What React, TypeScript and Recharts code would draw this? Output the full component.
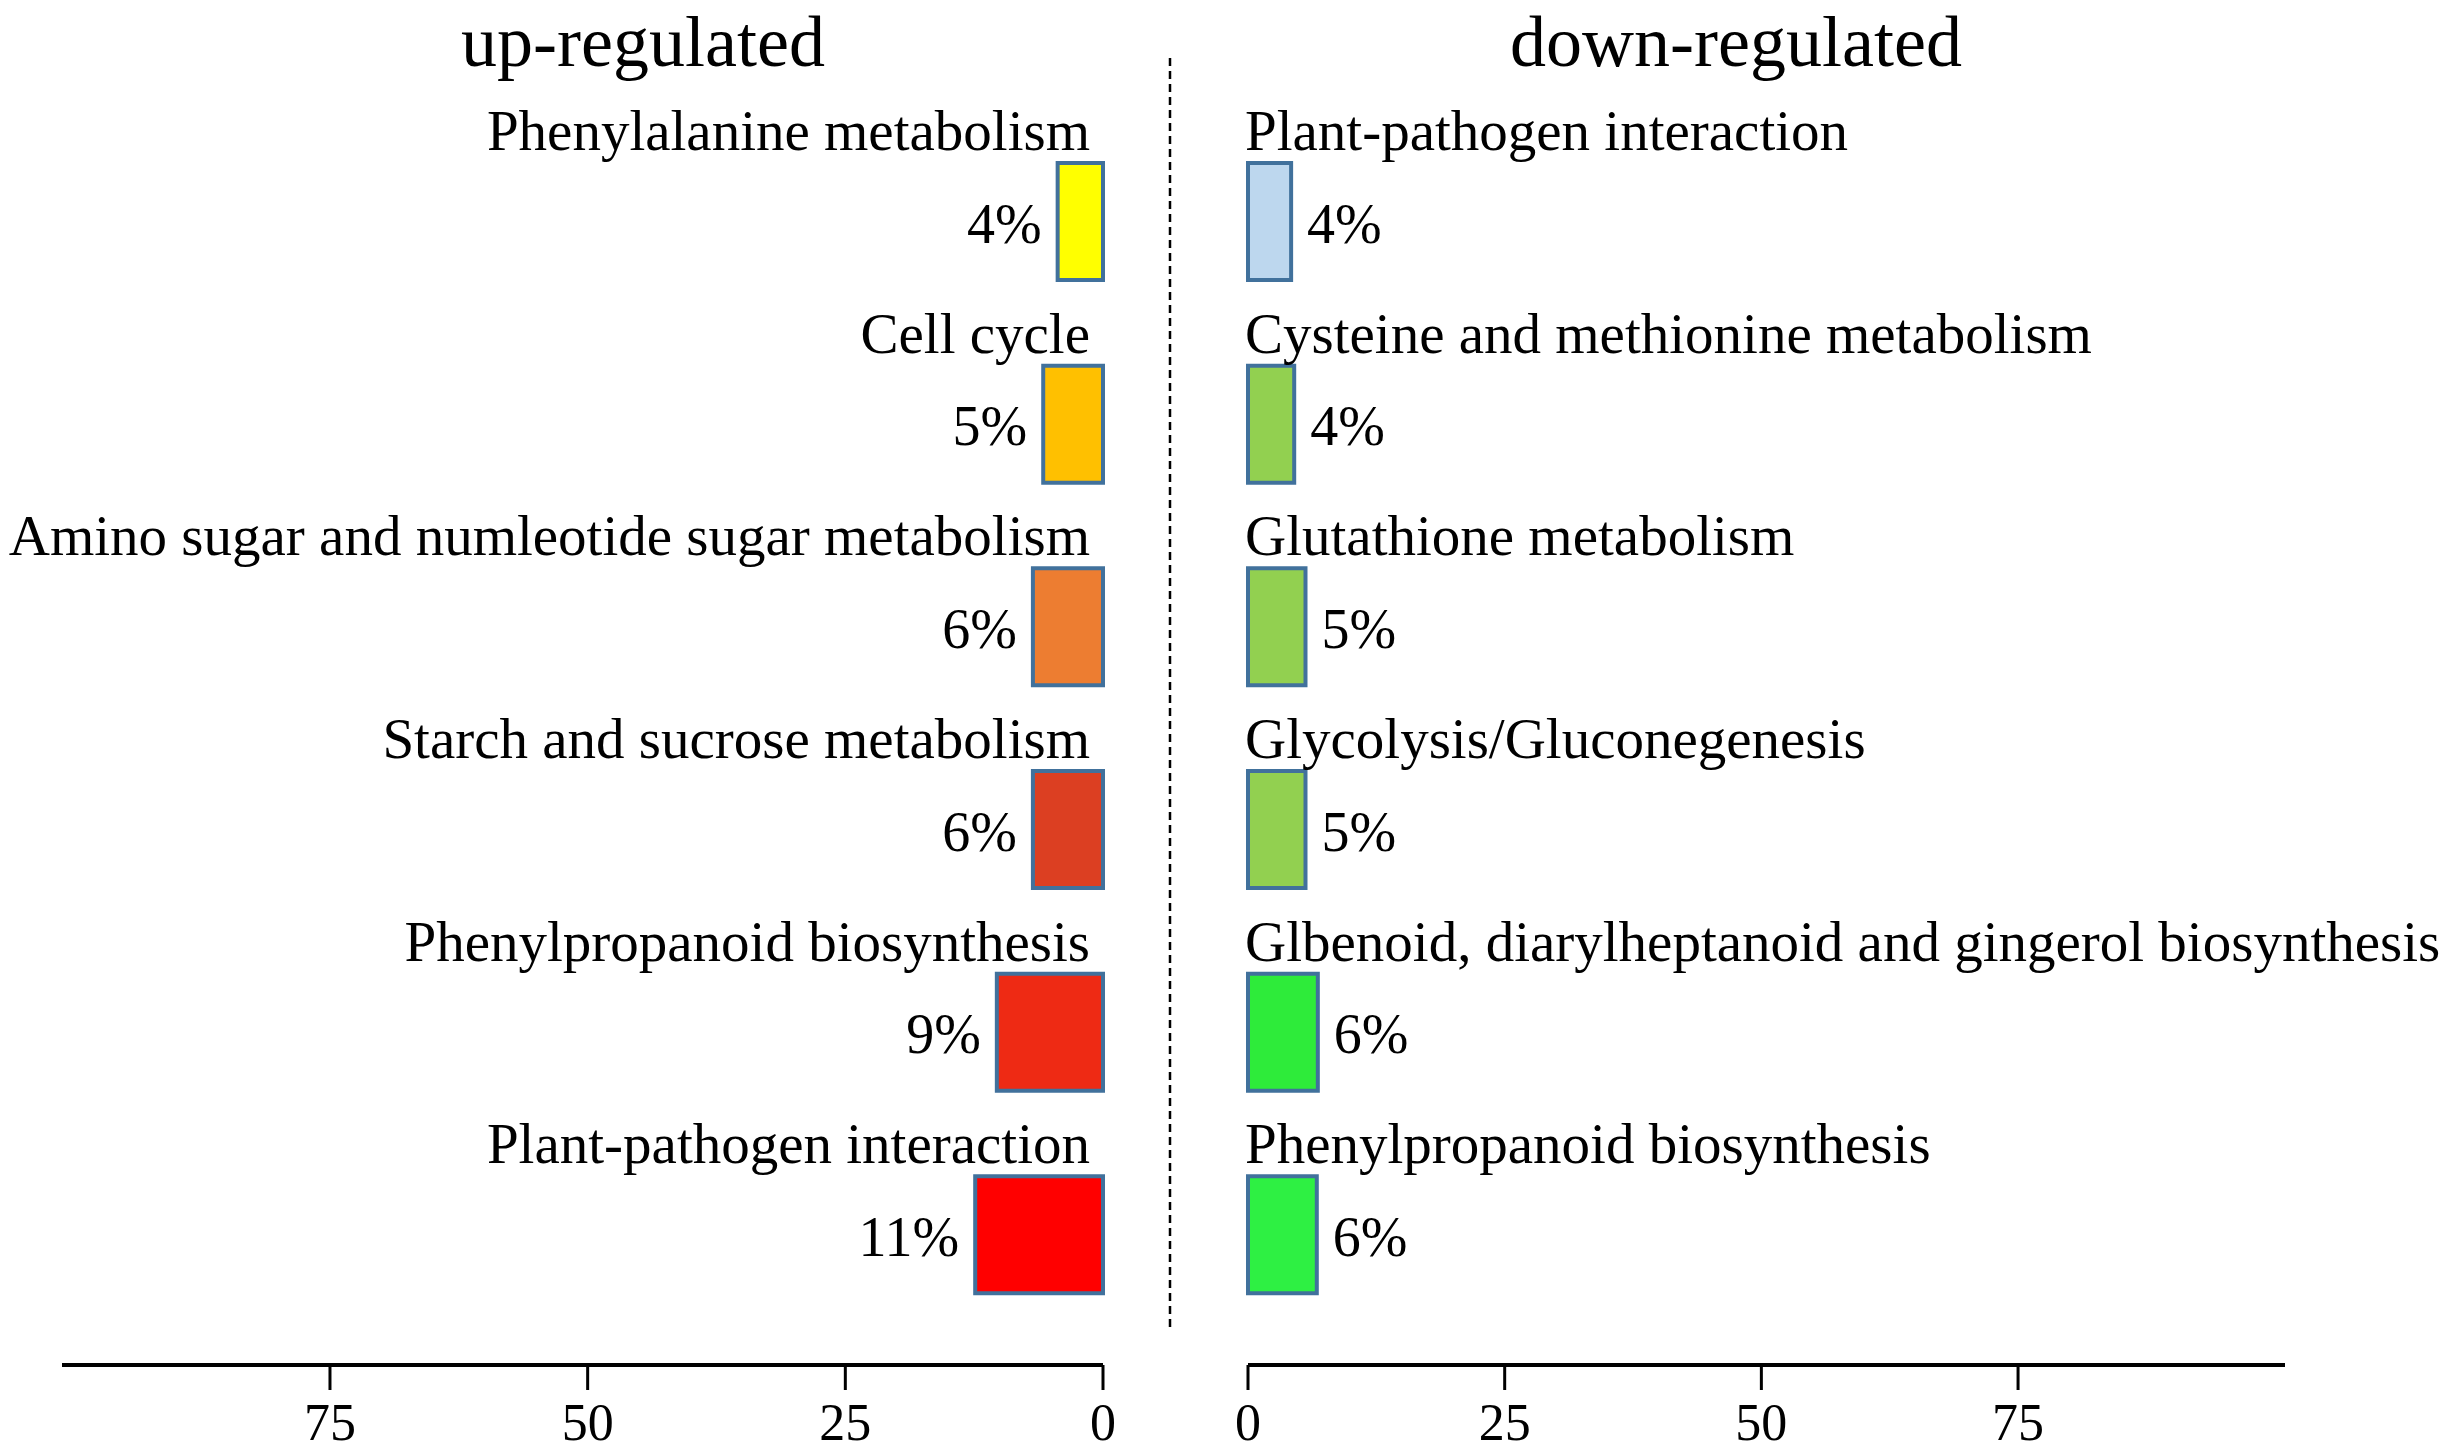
import React from 'react';
import { BarChart, Bar, XAxis, YAxis, Cell, LabelList } from 'recharts';

const upPathways = [
  'Phenylalanine metabolism',
  'Cell cycle',
  'Amino sugar and numleotide sugar metabolism',
  'Starch and sucrose metabolism',
  'Phenylpropanoid biosynthesis',
  'Plant-pathogen interaction',
];
const upValues = [4.4, 5.8, 6.8, 6.8, 10.3, 12.4];
const upLabels = ['4%', '5%', '6%', '6%', '9%', '11%'];
const upColors = ['#FFFF00', '#FFC000', '#ED7D31', '#DC3F22', '#EE2A14', '#FF0000'];

const downPathways = [
  'Plant-pathogen interaction',
  'Cysteine and methionine metabolism',
  'Glutathione metabolism',
  'Glycolysis/Gluconegenesis',
  'Glbenoid, diarylheptanoid and gingerol biosynthesis',
  'Phenylpropanoid biosynthesis',
];
const downValues = [4.2, 4.5, 5.6, 5.6, 6.8, 6.7];
const downLabels = ['4%', '4%', '5%', '5%', '6%', '6%'];
const downColors = ['#BDD7EE', '#92D050', '#92D050', '#92D050', '#2EEB3A', '#2EF043'];

const xTicks = [0, 25, 50, 75];

const FONT = '"Liberation Serif", "Times New Roman", serif';
const H = 1455;
const TOP = 120;
const AXIS_H = 90;
const BAR_STROKE = '#41719C';

const upData = upPathways.map((name, i) => ({ name, value: upValues[i], pct: upLabels[i] }));
const downData = downPathways.map((name, i) => ({ name, value: downValues[i], pct: downLabels[i] }));

const txt = { fontFamily: FONT, fontSize: 57, fill: '#000' };

function edges(p: any) {
  const x = Number(p.x), w = Number(p.width);
  return { left: Math.min(x, x + w), right: Math.max(x, x + w), top: Number(p.y), mid: Number(p.y) + Number(p.height) / 2 };
}

const UpName = (p: any) => {
  const e = edges(p);
  return <text x={e.right - 13} y={e.top - 13} textAnchor="end" {...txt}>{p.value}</text>;
};
const UpPct = (p: any) => {
  const e = edges(p);
  return <text x={e.left - 16} y={e.mid + 21} textAnchor="end" {...txt} fontSize={56}>{p.value}</text>;
};
const DownName = (p: any) => {
  const e = edges(p);
  return <text x={e.left - 3} y={e.top - 13} textAnchor="start" {...txt}>{p.value}</text>;
};
const DownPct = (p: any) => {
  const e = edges(p);
  return <text x={e.right + 16} y={e.mid + 21} textAnchor="start" {...txt} fontSize={56}>{p.value}</text>;
};

const axisProps = {
  type: 'number' as const,
  domain: [0, 101],
  ticks: xTicks,
  height: AXIS_H,
  tickSize: 25,
  tickMargin: 13,
  axisLine: { stroke: '#000', strokeWidth: 4 },
  tickLine: { stroke: '#000', strokeWidth: 3 },
  tick: { fontFamily: FONT, fontSize: 52, fill: '#000' },
};

function Side({ data, colors, reversed, width, margin, Name, Pct }: any) {
  return (
    <BarChart width={width} height={H} data={data} layout="vertical" margin={margin} barCategoryGap={0}>
      <XAxis {...axisProps} reversed={reversed} />
      <YAxis type="category" dataKey="name" hide width={0} padding={{ top: 0, bottom: 29 }} />
      <Bar dataKey="value" barSize={117} stroke={BAR_STROKE} strokeWidth={4} isAnimationActive={false}>
        {data.map((_: any, i: number) => (
          <Cell key={i} fill={colors[i]} />
        ))}
        <LabelList dataKey="name" content={Name} />
        <LabelList dataKey="pct" content={Pct} />
      </Bar>
    </BarChart>
  );
}

export default function App() {
  return (
    <div style={{ position: 'absolute', left: 0, top: 0, width: 2449, height: H, background: '#fff' }}>
      <div style={{ position: 'absolute', left: 0, top: 0 }}>
        <Side
          data={upData}
          colors={upColors}
          reversed
          width={1170}
          margin={{ top: TOP, right: 67, bottom: 0, left: 62 }}
          Name={UpName}
          Pct={UpPct}
        />
      </div>
      <div style={{ position: 'absolute', left: 1170, top: 0 }}>
        <Side
          data={downData}
          colors={downColors}
          reversed={false}
          width={1279}
          margin={{ top: TOP, right: 164, bottom: 0, left: 78 }}
          Name={DownName}
          Pct={DownPct}
        />
      </div>
      <svg width={2449} height={H} style={{ position: 'absolute', left: 0, top: 0, pointerEvents: 'none' }}>
        <text x={643} y={66} textAnchor="middle" fontFamily={FONT} fontSize={72} fill="#000">up-regulated</text>
        <text x={1736} y={66} textAnchor="middle" fontFamily={FONT} fontSize={72} fill="#000">down-regulated</text>
        <line x1={1170} y1={58} x2={1170} y2={1328} stroke="#000" strokeWidth={2.5} strokeDasharray="8 5" />
      </svg>
    </div>
  );
}
